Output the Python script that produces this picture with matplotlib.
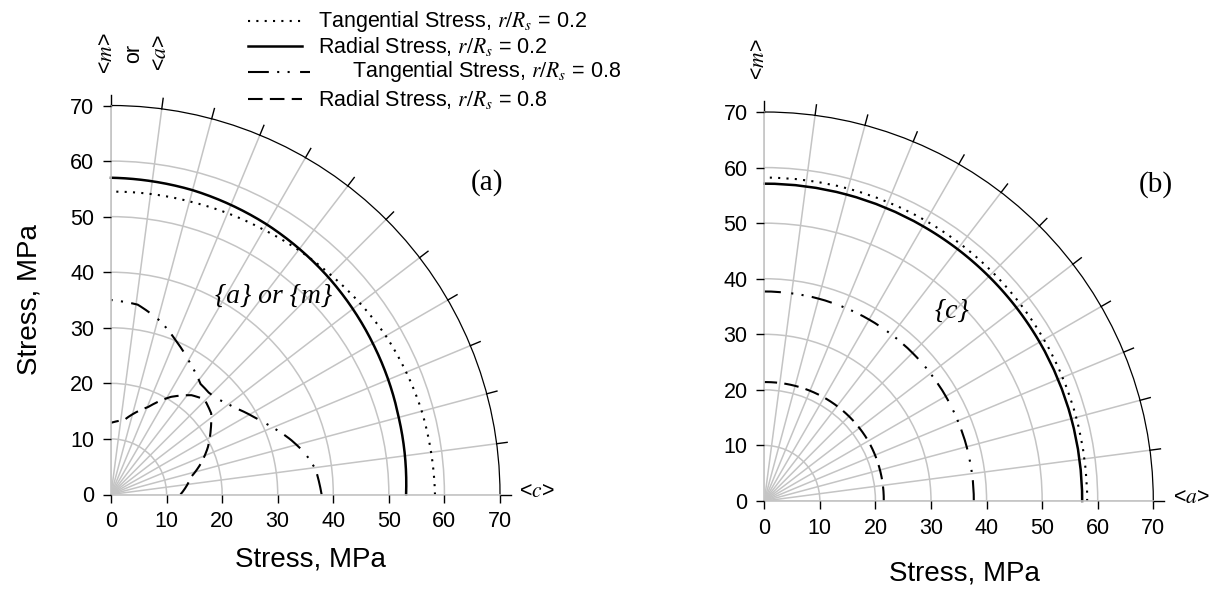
import numpy as np
import matplotlib
matplotlib.use("Agg")
import matplotlib.pyplot as plt
from matplotlib.lines import Line2D

plt.rcParams["font.family"] = ["Liberation Sans", "DejaVu Sans"]
plt.rcParams["mathtext.fontset"] = "stix"

# ---- stress distributions (angle in degrees, stress in MPa) ----
# panel (a): {a} or {m} plane
a_tan02_ang = [0, 15, 30, 45, 60, 75, 90]
a_tan02_val = [58.3, 57.9, 57.1, 55.9, 55.0, 54.6, 54.5]
a_rad02_ang = [0, 15, 30, 45, 60, 75, 90]
a_rad02_val = [53.1, 53.6, 54.4, 55.3, 56.1, 56.7, 57.0]
a_tan08_ang = [0, 7, 12, 17, 23, 28, 35, 42, 46, 51, 59, 67, 74, 82, 90]
a_tan08_val = [37.9, 37.1, 35.7, 33.8, 31.3, 29.4, 27.2, 25.7, 25.4, 25.6, 27.6, 30.0, 32.4, 34.5, 35.0]
a_rad08_ang = [0, 12.5, 19, 26, 33, 39, 45.5, 51, 58.5, 67, 80, 90]
a_rad08_val = [12.5, 14.8, 17.1, 19.4, 21.4, 23.2, 24.0, 23.0, 20.6, 17.1, 13.6, 12.9]

# panel (b): {c} plane
b_tan02_ang = [0, 30, 60, 90]
b_tan02_val = [58.1, 58.1, 58.2, 58.2]
b_rad02_ang = [0, 30, 60, 90]
b_rad02_val = [57.2, 57.2, 57.1, 57.1]
b_tan08_ang = [0, 30, 60, 90]
b_tan08_val = [37.7, 37.7, 37.7, 37.7]
b_rad08_ang = [0, 30, 60, 90]
b_rad08_val = [21.5, 21.6, 21.5, 21.4]

stress_ticks = [0, 10, 20, 30, 40, 50, 60, 70]
ring_values = [10, 20, 30, 40, 50, 60]
spoke_step = 7.5
r_max = 70

legend_labels = [
    r"Tangential Stress, $r/R_s$ = 0.2",
    r"Radial Stress, $r/R_s$ = 0.2",
    r"Tangential Stress, $r/R_s$ = 0.8",
    r"Radial Stress, $r/R_s$ = 0.8",
]

GREY = "#c4c4c4"
styles = [
    dict(ls=(0, (1, 3)), lw=1.5),
    dict(ls="-", lw=1.8),
    dict(ls=(0, (10, 4, 1, 4, 1, 5)), lw=1.5),
    dict(ls=(0, (7, 3.5)), lw=1.5),
]

W, H = 1219, 596
fig = plt.figure(figsize=(W / 100, H / 100), dpi=100)


def px_box(x0, y0, size):
    """Axes rectangle from an origin pixel (from top-left) and a side length."""
    return [x0 / W, (H - y0) / H, size / W, size / H]


def make_panel(origin, size, series, plane_text, plane_xy, tag, tag_xy, end_label):
    box = px_box(origin[0], origin[1], size)
    axp = fig.add_axes(box, projection="polar")
    axp.set_thetamin(0)
    axp.set_thetamax(90)
    axp.set_rlim(0, r_max)
    axp.set_rticks(ring_values)
    axp.set_yticklabels([])
    axp.tick_params(axis="y", length=0)
    spokes = np.arange(0, 90 + spoke_step / 2, spoke_step)
    axp.set_xticks(np.deg2rad(spokes))
    axp.set_xticklabels([])
    axp.tick_params(axis="x", length=0)
    axp.grid(True, color=GREY, lw=1.1)
    axp.spines["polar"].set_color("black")
    axp.spines["polar"].set_linewidth(0.9)
    for s in ("start", "end"):
        axp.spines[s].set_color(GREY)
        axp.spines[s].set_linewidth(1.2)
    axp.spines["inner"].set_visible(False)
    axp.set_facecolor("none")
    # short outward ticks on the outer ring at every spoke
    for t in np.deg2rad(spokes):
        axp.plot([t, t], [r_max, r_max + 1.9], color="black", lw=1.0, clip_on=False)
    for (ang, val), st in zip(series, styles):
        ln, = axp.plot(np.deg2rad(ang), val, color="black", clip_on=False, **st)
        # follow the polar scale between samples (arcs rather than chords)
        ln.get_path()._interpolation_steps = 64

    axc = fig.add_axes(box)
    axc.set_xlim(0, r_max)
    axc.set_ylim(0, r_max)
    axc.patch.set_visible(False)
    for s in axc.spines.values():
        s.set_visible(False)
    axc.set_xticks(stress_ticks)
    axc.set_yticks(stress_ticks)
    axc.tick_params(direction="out", length=6, width=1.0, color="black",
                    labelsize=15.5, pad=6)
    axc.text(plane_xy[0], plane_xy[1], plane_text, fontsize=20, ha="center",
             va="center", family="Liberation Serif", style="italic")
    axc.text(tag_xy[0], tag_xy[1], tag, fontsize=21, ha="center", va="center",
             family="Liberation Serif")
    axc.text(r_max + 3.5, 0.6, end_label, fontsize=15.5, ha="left", va="center")
    return axp, axc


series_a = [(a_tan02_ang, a_tan02_val), (a_rad02_ang, a_rad02_val),
            (a_tan08_ang, a_tan08_val), (a_rad08_ang, a_rad08_val)]
series_b = [(b_tan02_ang, b_tan02_val), (b_rad02_ang, b_rad02_val),
            (b_tan08_ang, b_tan08_val), (b_rad08_ang, b_rad08_val)]

size = 389
axp_a, axc_a = make_panel((111, 494.5), size, series_a, "{a} or {m}", (29.2, 35.7),
                          "(a)", (67.6, 56.2), "<$c$>")
axc_a.set_ylabel("Stress, MPa", fontsize=20, labelpad=20)
axp_b, axc_b = make_panel((764.3, 501), size, series_b, "{c}", (33.7, 34.2),
                          "(b)", (70.5, 57.0), "<$a$>")

# axis titles under each panel
fig.text(310 / W, 1 - 560 / H, "Stress, MPa", fontsize=20, ha="center", va="center")
fig.text(964 / W, 1 - 574 / H, "Stress, MPa", fontsize=20, ha="center", va="center")

# direction labels above the vertical axes
fig.text(107 / W, 1 - 53 / H, "<$m$>", rotation=90, fontsize=15.5, ha="center", va="center")
fig.text(134 / W, 1 - 53 / H, "or", rotation=90, fontsize=15.5, ha="center", va="center")
fig.text(161 / W, 1 - 53 / H, "<$a$>", rotation=90, fontsize=15.5, ha="center", va="center")
fig.text(759 / W, 1 - 59 / H, "<$m$>", rotation=90, fontsize=15.5, ha="center", va="center")

# legend drawn in figure pixels
rows_y = [21, 46, 72, 99]
line_x = [(248, 302), (248, 302), (248, 310), (248, 302)]
text_x = [318, 318, 352, 318]
for y, (x0, x1), tx, lab, st in zip(rows_y, line_x, text_x, legend_labels, styles):
    fig.add_artist(Line2D([x0 / W, x1 / W], [1 - y / H, 1 - y / H], color="black",
                          transform=fig.transFigure, **st))
    fig.text(tx / W, 1 - y / H, lab, fontsize=15.5, ha="left", va="center")

fig.savefig("out.png", dpi=100)
